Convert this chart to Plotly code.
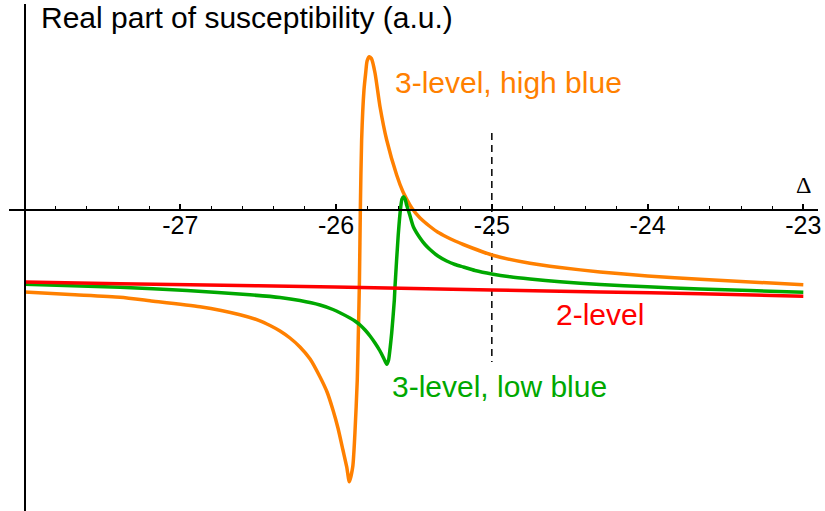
import plotly.graph_objects as go

# ---------------- data ----------------
red_x = [-28.0, -27.39, -26.5, -25.5, -25.0, -24.3, -23.66, -23.0]
red_y = [-0.72, -0.737, -0.758, -0.785, -0.80, -0.82, -0.837, -0.863]

green_x = [-28.0, -27.387, -26.957, -26.553, -26.360, -26.232, -26.103, -26.020,
           -25.911, -25.879, -25.846, -25.814, -25.782, -25.750, -25.718, -25.692,
           -25.675, -25.663, -25.653, -25.643, -25.626, -25.622, -25.601, -25.585,
           -25.577, -25.568, -25.557, -25.547, -25.525, -25.504, -25.461, -25.429,
           -25.397, -25.346, -25.290, -25.236, -25.183, -25.108, -25.0, -24.883,
           -24.755, -24.562, -24.305, -24.0, -23.663, -23.342, -23.0]
green_y = [-0.743, -0.773, -0.805, -0.848, -0.875, -0.905, -0.95, -0.995,
           -1.08, -1.11, -1.15, -1.20, -1.26, -1.33, -1.41, -1.49,
           -1.543, -1.50, -1.38, -1.23, -0.90, -0.773, -0.25, 0.03,
           0.11, 0.133, 0.11, 0.05, -0.06, -0.167, -0.28, -0.345,
           -0.395, -0.46, -0.51, -0.545, -0.57, -0.605, -0.64, -0.668,
           -0.69, -0.718, -0.745, -0.767, -0.79, -0.806, -0.823]

orange_x = [-28.0, -27.708, -27.387, -27.195, -26.874, -26.617, -26.489, -26.424,
            -26.360, -26.296, -26.232, -26.167, -26.103, -26.058, -26.020, -25.988,
            -25.956, -25.932, -25.915, -25.893, -25.879, -25.864, -25.857, -25.850,
            -25.844, -25.836, -25.821, -25.810, -25.801, -25.787, -25.773, -25.750,
            -25.718, -25.675, -25.611, -25.570, -25.547, -25.514, -25.461, -25.397,
            -25.346, -25.290, -25.236, -25.183, -25.0, -24.755, -24.562, -24.305,
            -24.0, -23.663, -23.0]
orange_y = [-0.82, -0.846, -0.873, -0.907, -0.967, -1.047, -1.108, -1.155,
            -1.21, -1.28, -1.37, -1.49, -1.67, -1.82, -2.00, -2.18,
            -2.40, -2.567, -2.717, -2.567, -2.23, -1.70, -1.23, -0.70,
            0.033, 0.70, 1.20, 1.37, 1.49, 1.533, 1.515, 1.37,
            1.033, 0.70, 0.35, 0.18, 0.11, 0.02, -0.08, -0.165,
            -0.223, -0.27, -0.31, -0.345, -0.45, -0.533, -0.575, -0.62,
            -0.66, -0.693, -0.747]

marker_x = [-25.0, -25.0]          # dashed reference line at Δ = -25
marker_y = [0.77, -1.52]

tick_vals = [-27, -26, -25, -24, -23]
tick_text = ["-27", "-26", "-25", "-24", "-23"]

label_high = "3-level, high blue"
label_low = "3-level, low blue"
label_two = "2-level"
y_title = "Real part of susceptibility (a.u.)"
x_title = "Δ"

# ---------------- styling ----------------
ORANGE = "#FF8000"
GREEN = "#00A800"
RED = "#FF0000"
FONT = "Liberation Sans, Arial, sans-serif"

x_min, x_max = -28.1002, -22.9057
y_min, y_max = -3.01, 2.06

fig = go.Figure()
fig.add_trace(go.Scatter(x=marker_x, y=marker_y, mode="lines",
                         line=dict(color="black", width=1.5, dash="7px,5px"),
                         showlegend=False, hoverinfo="skip"))
for xs, ys, col in [(orange_x, orange_y, ORANGE), (green_x, green_y, GREEN),
                    (red_x, red_y, RED)]:
    fig.add_trace(go.Scatter(x=xs, y=ys, mode="lines",
                             line=dict(color=col, width=3.5, shape="spline", smoothing=0.6),
                             showlegend=False))

fig.update_layout(
    width=825, height=511,
    margin=dict(l=9, r=7, t=4, b=0, autoexpand=False),
    paper_bgcolor="white", plot_bgcolor="white",
    font=dict(family=FONT, color="black"),
    xaxis=dict(
        range=[x_min, x_max], showgrid=False, zeroline=False,
        showline=True, linecolor="black", linewidth=2,
        anchor="free", position=(0 - y_min) / (y_max - y_min),
        tickmode="array", tickvals=tick_vals, ticktext=tick_text,
        ticks="inside", ticklen=5, tickwidth=1.5, tickcolor="black",
        ticklabelstandoff=-7,
        tickfont=dict(family=FONT, size=25, color="black"),
        minor=dict(dtick=0.2, tick0=-28, ticks="inside", ticklen=3,
                   tickwidth=1.2, tickcolor="black", showgrid=False),
    ),
    yaxis=dict(
        range=[y_min, y_max], showgrid=False, zeroline=False,
        showline=True, linecolor="black", linewidth=2,
        anchor="free", position=(-28 - x_min) / (x_max - x_min),
        showticklabels=False, ticks="",
    ),
    annotations=[
        dict(x=-27.9075, y=1.925, xref="x", yref="y", text=y_title, showarrow=False,
             xanchor="left", yanchor="middle", font=dict(family=FONT, size=30, color="black")),
        dict(x=-23.0, y=0.25, xref="x", yref="y", text=x_title, showarrow=False,
             xanchor="center", yanchor="middle",
             font=dict(family="Liberation Serif, Times New Roman, serif", size=24, color="black")),
        dict(x=-25.6364, y=1.28, xref="x", yref="y", text=label_high, showarrow=False,
             xanchor="left", yanchor="middle", font=dict(family=FONT, size=30, color=ORANGE)),
        dict(x=-24.6007, y=-1.047, xref="x", yref="y", text=label_two, showarrow=False,
             xanchor="left", yanchor="middle", font=dict(family=FONT, size=30, color=RED)),
        dict(x=-25.6537, y=-1.76, xref="x", yref="y", text=label_low, showarrow=False,
             xanchor="left", yanchor="middle", font=dict(family=FONT, size=30, color=GREEN)),
    ],
)

# the page's default 8px body margin would shift the figure; remove it
fig.write_html("out.html", config={"displayModeBar": False},
               post_script="document.body.style.margin='0px';")
